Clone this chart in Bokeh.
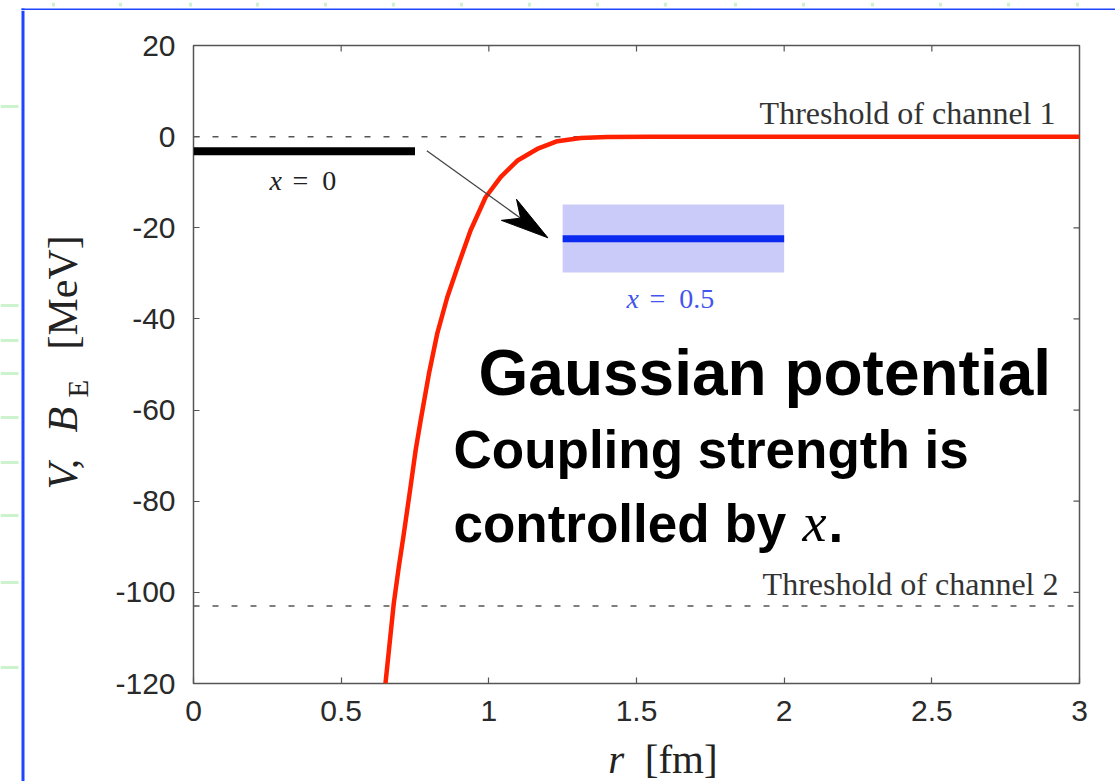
import math
from bokeh.plotting import figure
from bokeh.layouts import row, column
from bokeh.models import Range1d, FixedTicker, Label, NumeralTickFormatter
from bokeh.embed import file_html
from bokeh.resources import INLINE

# ---------------- data ----------------
r_curve = [0.650, 0.665, 0.678, 0.695, 0.712, 0.733, 0.752, 0.769, 0.797, 0.825,
           0.859, 0.898, 0.938, 0.989, 1.040, 1.096, 1.164, 1.232, 1.311, 1.400,
           1.550, 3.000]
v_curve = [-120.0, -110.6, -102.5, -94.5, -87.2, -77.7, -68.9, -62.3, -52.1, -43.3,
           -35.3, -27.9, -20.6, -13.3, -8.9, -5.3, -2.7, -1.0, -0.3, -0.1,
           0.0, 0.0]

threshold_names = ["Threshold of channel 1", "Threshold of channel 2"]
threshold_values = [0.0, -103.0]

state_names = ["0", "0.5"]          # value of x
state_r_start = [0.0, 1.25]
state_r_end = [0.75, 2.0]
state_energy = [-3.2, -22.4]
band_low = -29.8                    # band of the x = 0.5 state
band_high = -14.9

arrow_start = [0.79, -3.1]
arrow_end = [1.20, -22.2]

x_ticks = [0, 0.5, 1, 1.5, 2, 2.5, 3]
y_ticks = [-120, -100, -80, -60, -40, -20, 0, 20]

# ---------------- page layout (pixels) ----------------
W, H = 1115, 781
TOP_H = 10            # strip on top holding the slide border
LEFT_W = 100          # strip on the left holding the y title
BOT_H = 46            # strip below holding the x title
MAIN_W, MAIN_H = W - LEFT_W, H - TOP_H - BOT_H
FRAME_L, FRAME_R, FRAME_T, FRAME_B = 193, 1079, 45, 683   # frame in page pixels

X0, X1 = x_ticks[0], x_ticks[-1]
Y0, Y1 = y_ticks[0], y_ticks[-1]
SX = (FRAME_R - FRAME_L) / (X1 - X0)
SY = (FRAME_B - FRAME_T) / (Y1 - Y0)

BORDER_BLUE = "#1e44ff"
SLIDE_GREEN = "#cdf3cd"
top_dash_x = [53, 120, 190, 257, 325, 393, 461, 529, 597, 665, 735, 803, 872, 940, 1008, 1077]
left_dash_y = [106, 305, 340, 373, 417, 462, 515, 582, 667]

SANS = "Liberation Sans"
SERIF = "Liberation Serif"
# distance (in em) from the baseline to the middle of the text box
MID = {SANS: (0.905 - 0.212) / 2, SERIF: (0.891 - 0.216) / 2}


def dx(px):
    return X0 + (px - FRAME_L) / SX


def dy(py):
    return Y1 - (py - FRAME_T) / SY


def strip(w, h, x_range, y_range):
    f = figure(width=w, height=h, x_range=x_range, y_range=y_range, title=None,
               output_backend="svg", toolbar_location=None, min_border=0,
               x_axis_location=None, y_axis_location=None,
               background_fill_color="white", border_fill_color="white")
    f.grid.visible = False
    f.outline_line_color = None
    return f


# ---------------- main plot ----------------
p = figure(width=MAIN_W, height=MAIN_H, x_range=Range1d(X0, X1), y_range=Range1d(Y0, Y1),
           title=None, output_backend="svg", toolbar_location=None,
           min_border_left=FRAME_L - LEFT_W, min_border_right=W - FRAME_R,
           min_border_top=FRAME_T - TOP_H, min_border_bottom=TOP_H + MAIN_H - FRAME_B,
           background_fill_color="white", border_fill_color="white")
p.grid.visible = False
p.outline_line_color = "#555555"
p.outline_line_width = 1.5

for ax in [p.xaxis[0], p.yaxis[0]]:
    ax.axis_line_color = None
    ax.major_tick_in = 6
    ax.major_tick_out = 0
    ax.minor_tick_line_color = None
    ax.major_tick_line_color = "#555555"
    ax.major_tick_line_width = 1.2
    ax.major_label_text_font = SANS
    ax.major_label_text_font_size = "30px"
    ax.major_label_text_color = "#2a2a2a"
p.xaxis.major_label_standoff = 17
p.yaxis.major_label_standoff = 18
p.xaxis.ticker = FixedTicker(ticks=x_ticks)
p.xaxis.formatter = NumeralTickFormatter(format="0.[0]")
p.yaxis.ticker = FixedTicker(ticks=y_ticks)
p.yaxis.formatter = NumeralTickFormatter(format="0")

# mirrored ticks on the top and right edges
tx = x_ticks[1:-1]
p.segment(x0=tx, y0=[Y1] * len(tx), x1=tx, y1=[Y1 - 6 / SY] * len(tx),
          line_color="#555555", line_width=1.2)
ty = y_ticks[1:-1]
p.segment(x0=[X1] * len(ty), y0=ty, x1=[X1 - 6 / SX] * len(ty), y1=ty,
          line_color="#555555", line_width=1.2)

# thresholds
for v in threshold_values:
    p.line([X0, X1], [v, v], line_color="#555555", line_width=1.5, line_dash="6 13")

# x = 0.5 band and state
p.quad(left=[state_r_start[1]], right=[state_r_end[1]], top=[band_high], bottom=[band_low],
       fill_color="#cbcbfa", line_color=None)
p.line([state_r_start[1], state_r_end[1]], [state_energy[1]] * 2,
       line_color="#0a2af0", line_width=7, line_cap="butt")
# x = 0 state
p.line([state_r_start[0], state_r_end[0]], [state_energy[0]] * 2,
       line_color="black", line_width=8, line_cap="butt")

# potential
p.line(r_curve, v_curve, line_color="#ff2000", line_width=4.5, line_join="round")

# arrow (shaft + notched head computed in pixel space)
sx, sy = arrow_start[0] * SX, arrow_start[1] * SY
ex, ey = arrow_end[0] * SX, arrow_end[1] * SY
ln = math.hypot(ex - sx, ey - sy)
ux, uy = (ex - sx) / ln, (ey - sy) / ln
nx, ny = -uy, ux
HL, HW = 48.0, 13.0
notch = (ex - 0.7 * HL * ux, ey - 0.7 * HL * uy)
w1 = (ex - HL * ux + HW * nx, ey - HL * uy + HW * ny)
w2 = (ex - HL * ux - HW * nx, ey - HL * uy - HW * ny)
p.line([arrow_start[0], notch[0] / SX], [arrow_start[1], notch[1] / SY],
       line_color="#444444", line_width=1.3)
head_pts = [(ex, ey), w1, notch, w2]
p.patch([q[0] / SX for q in head_pts], [q[1] / SY for q in head_pts],
        fill_color="black", line_color="black", line_width=1)


def lab(fig, px, py, text, font=SERIF, size=28, style="normal", color="#222222",
        align="left", vertical=False, to_x=lambda v: v, to_y=lambda v: v):
    """(px, py) is the start of the baseline in page pixels."""
    off = MID[font] * size
    if vertical:
        cx, cy, ang = px - off, py, math.pi / 2
    else:
        cx, cy, ang = px, py - off, 0.0
    fig.add_layout(Label(x=to_x(cx), y=to_y(cy), text=text, text_font=font,
                         text_font_size=f"{size}px", text_font_style=style, text_color=color,
                         text_align=align, text_baseline="middle", angle=ang))


def mlab(px, py, text, **kw):
    lab(p, px, py, text, to_x=dx, to_y=dy, **kw)


# threshold labels
mlab(1055, 123, threshold_names[0], size=32, color="#333333", align="right")
mlab(1058, 594, threshold_names[1], size=32, color="#333333", align="right")

# state labels
mlab(269, 189, "x", style="italic", size=28)
mlab(292, 189, "=\u2002" + state_names[0], size=28)
mlab(626, 307, "x", style="italic", size=28, color="#4455ee")
mlab(649, 307, "=\u2002" + state_names[1], size=28, color="#4455ee")

# big annotation text
mlab(478, 395, "Gaussian potential", font=SANS, size=64, style="bold", color="black")
mlab(453, 467, "Coupling strength is", font=SANS, size=53, style="bold", color="black")
mlab(453, 541, "controlled by", font=SANS, size=53, style="bold", color="black")
mlab(802, 541, "x", size=54, style="italic", color="black")
mlab(828, 541, ".", font=SANS, size=53, style="bold", color="black")

# ---------------- strips around the plot (page pixel coordinates) ----------------
top = strip(W, TOP_H, Range1d(0, W), Range1d(TOP_H, 0))
top.quad(left=[21], right=[W], top=[6], bottom=[9], fill_color=BORDER_BLUE, line_color=None)
top.quad(left=[21], right=[24], top=[6], bottom=[TOP_H], fill_color=BORDER_BLUE, line_color=None)
top.quad(left=[v - 1.5 for v in top_dash_x], right=[v + 1.5 for v in top_dash_x],
         top=[0] * len(top_dash_x), bottom=[4] * len(top_dash_x),
         fill_color=SLIDE_GREEN, line_color=None)

left = strip(LEFT_W, H - TOP_H, Range1d(0, LEFT_W), Range1d(H, TOP_H))
left.quad(left=[21], right=[24], top=[TOP_H], bottom=[H], fill_color=BORDER_BLUE, line_color=None)
left.quad(left=[0] * len(left_dash_y), right=[18] * len(left_dash_y),
          top=[v - 1.5 for v in left_dash_y], bottom=[v + 1.5 for v in left_dash_y],
          fill_color=SLIDE_GREEN, line_color=None)
lab(left, 77, 489, "V,", size=42, style="italic", vertical=True)
lab(left, 77, 432, "B", size=42, style="italic", vertical=True)
lab(left, 87, 397, "E", size=29, vertical=True)
lab(left, 77, 349, "[MeV]", size=42, vertical=True)

bottom = strip(MAIN_W, BOT_H, Range1d(LEFT_W, W), Range1d(H, H - BOT_H))
lab(bottom, 575, 772, "r", size=41, style="italic")
lab(bottom, 617, 772, "[fm]", size=41)

page = column(top, row(left, column(p, bottom)))

open("out.html", "w").write(file_html(page, INLINE))
